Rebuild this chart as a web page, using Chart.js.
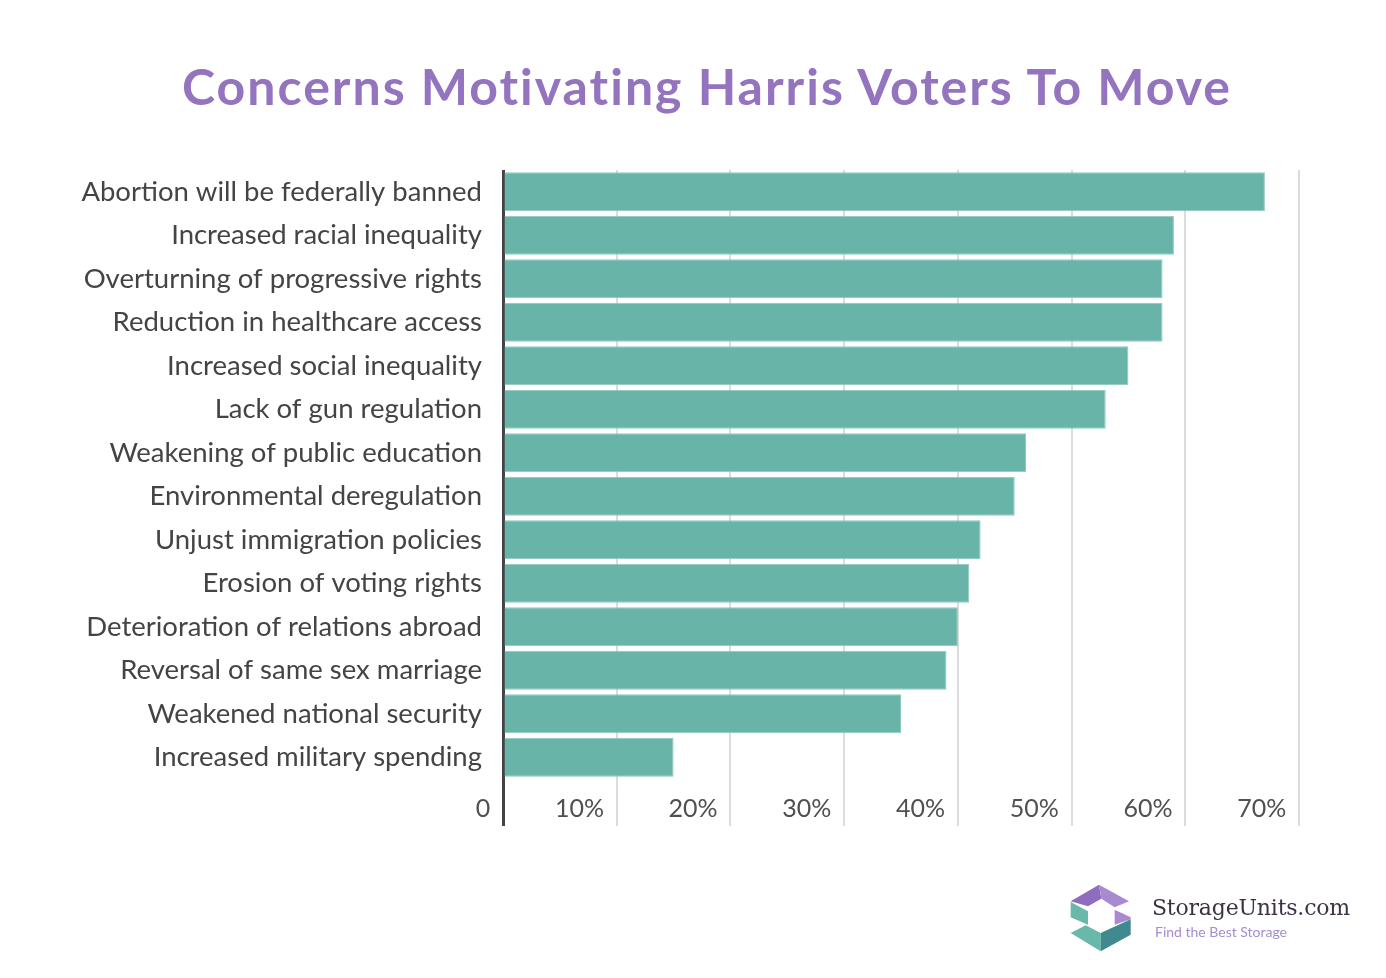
<!DOCTYPE html>
<html>
<head>
<meta charset="utf-8">
<script src="https://cdn.jsdelivr.net/npm/chart.js@4.4.1/dist/chart.umd.min.js"></script>
<style>
  html, body { margin: 0; padding: 0; background: #ffffff; }
  body { width: 1386px; height: 978px; position: relative; overflow: hidden; }
  #wrap { position: absolute; left: 0; top: 0; width: 1386px; height: 978px; }
  #title { position: absolute; left: 0; top: 56px; width: 1414px; text-align: center;
           font-family: Lato, "Open Sans", sans-serif; font-weight: 700; font-size: 50px;
           line-height: 60px; color: #9473bf; letter-spacing: 2px; }
  #logoText { position: absolute; left: 1152px; top: 894px; font-family: "DejaVu Serif", serif;
              font-size: 22px; color: #3d3146; letter-spacing: -0.2px; line-height: 28px; }
  #logoSub { position: absolute; left: 1155px; top: 923px; font-family: Lato, sans-serif;
             font-size: 14px; color: #a58bd0; line-height: 18px; }
  #logoIcon { position: absolute; left: 1064px; top: 878px; width: 80px; height: 80px; }
</style>
</head>
<body>
<div id="wrap"><canvas id="c" width="1386" height="978"></canvas></div>
<div id="title">Concerns Motivating Harris Voters To Move</div>
<svg id="logoIcon" viewBox="0 0 240 240">
  <polygon points="20,70 105,20 112,62 72,85" fill="#8f6dbe"/>
  <polygon points="105,20 195,70 152,88 112,62" fill="#a98ad0"/>
  <polygon points="152,95 200,118 200,124 152,140" fill="#a98ad0"/>
  <polygon points="20,72 72,100 72,140 20,118" fill="#69b8aa"/>
  <polygon points="20,165 65,142 110,165 110,220" fill="#69b8aa"/>
  <polygon points="110,165 200,124 200,170 110,220" fill="#3e8a8e"/>
</svg>
<div id="logoText">StorageUnits.com</div>
<div id="logoSub">Find the Best Storage</div>
<script>
const categories = [
  "Abortion will be federally banned",
  "Increased racial inequality",
  "Overturning of progressive rights",
  "Reduction in healthcare access",
  "Increased social inequality",
  "Lack of gun regulation",
  "Weakening of public education",
  "Environmental deregulation",
  "Unjust immigration policies",
  "Erosion of voting rights",
  "Deterioration of relations abroad",
  "Reversal of same sex marriage",
  "Weakened national security",
  "Increased military spending"
];
const shares = [67, 59, 58, 58, 55, 53, 46, 45, 42, 41, 40, 39, 35, 15];
const tickValues = [0, 10, 20, 30, 40, 50, 60, 70];
const tickLabels = ["0", "10%", "20%", "30%", "40%", "50%", "60%", "70%"];

new Chart(document.getElementById('c'), {
  type: 'bar',
  data: {
    labels: categories,
    datasets: [{
      data: shares,
      backgroundColor: '#68b4a9',
      borderColor: '#8dc8bf',
      borderWidth: 1,
      categoryPercentage: 0.9,
      barPercentage: 1.0
    }]
  },
  options: {
    indexAxis: 'y',
    responsive: false,
    animation: false,
    devicePixelRatio: 1,
    layout: { padding: { left: 0, right: 87, top: 170, bottom: 152 } },
    plugins: { legend: { display: false }, tooltip: { enabled: false }, title: { display: false } },
    scales: {
      x: {
        min: 0, max: 70,
        afterBuildTicks: (scale) => { scale.ticks = tickValues.map(v => ({ value: v })); },
        afterFit: (scale) => { scale.height = 47; },
        border: { display: false },
        grid: {
          drawTicks: true,
          tickLength: 47,
          color: (ctx) => (ctx.tick && ctx.tick.value === 0) ? '#444444' : '#dcdcdc',
          lineWidth: (ctx) => (ctx.tick && ctx.tick.value === 0) ? 3 : 2,
          tickColor: (ctx) => (ctx.tick && ctx.tick.value === 0) ? '#444444' : '#dcdcdc',
          tickWidth: (ctx) => (ctx.tick && ctx.tick.value === 0) ? 3 : 2
        },
        ticks: {
          autoSkip: false,
          maxRotation: 0,
          align: 'end',
          padding: -32,
          color: '#505050',
          font: { family: 'Lato, "Open Sans", sans-serif', size: 25 },
          callback: (value) => {
            const i = tickValues.indexOf(value);
            return (i >= 0 ? tickLabels[i] : value) + '\u00A0\u00A0';
          }
        }
      },
      y: {
        afterFit: (scale) => { scale.width = 503; },
        border: { display: false },
        grid: { display: false, drawTicks: false, tickLength: 0 },
        ticks: {
          autoSkip: false,
          padding: 21,
          color: '#444444',
          font: { family: 'Lato, "Open Sans", sans-serif', size: 27.5 }
        }
      }
    }
  }
});
</script>
</body>
</html>
